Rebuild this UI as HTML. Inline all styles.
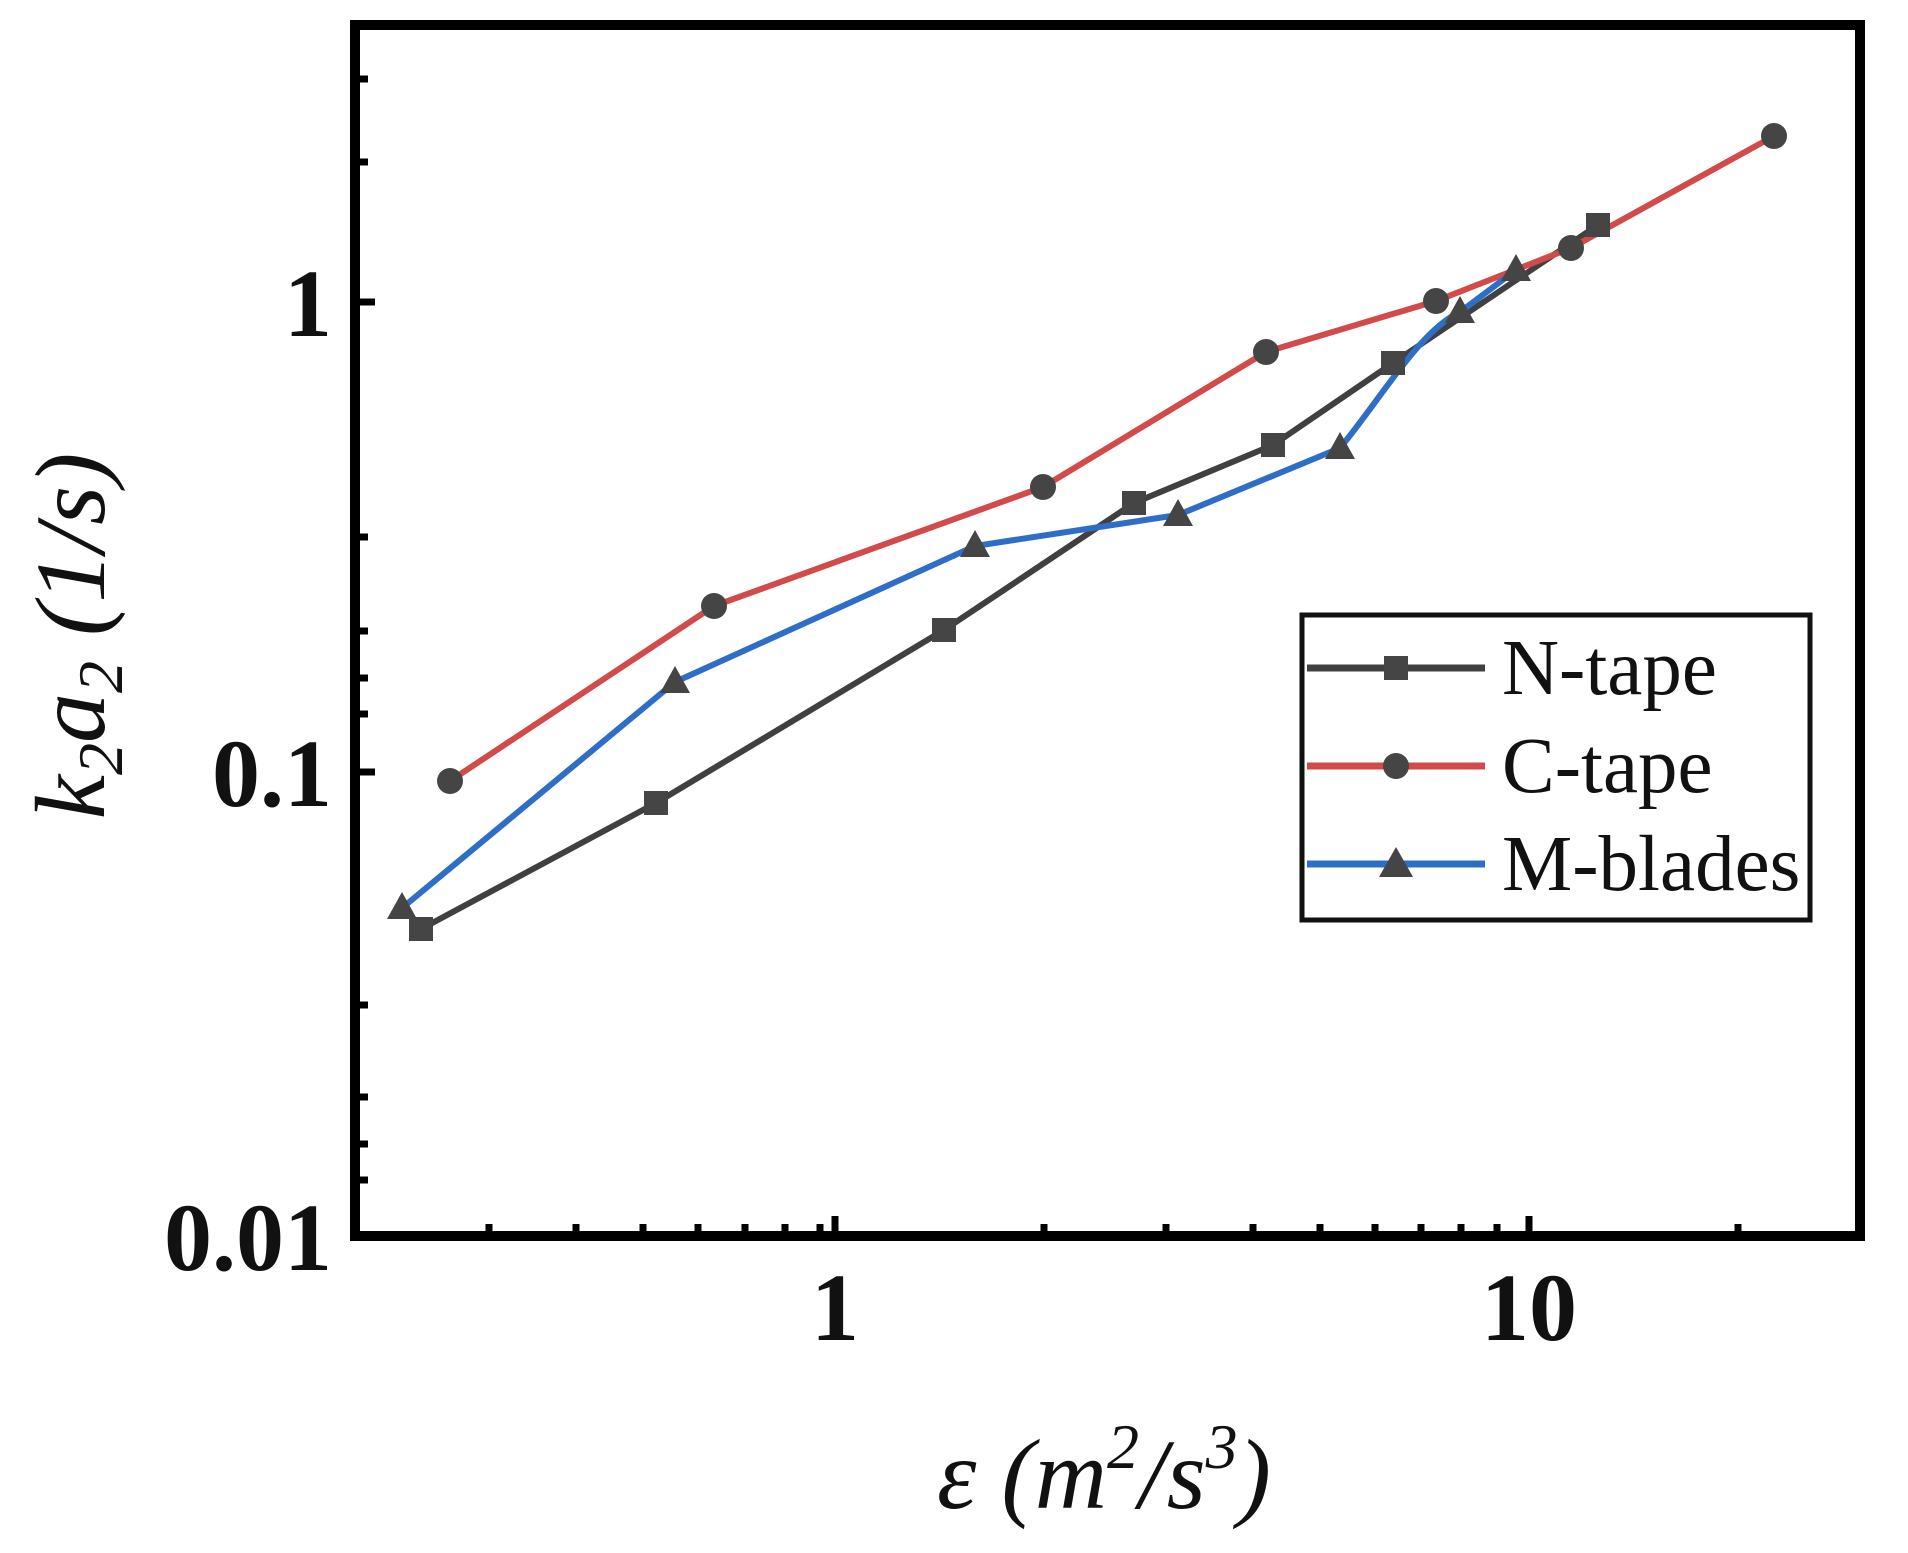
<!DOCTYPE html>
<html><head><meta charset="utf-8"><style>body{margin:0;background:#fff}svg{display:block}</style></head>
<body>
<svg width="1908" height="1553" viewBox="0 0 1908 1553" xmlns="http://www.w3.org/2000/svg" font-family="Liberation Serif, serif">
<rect width="1908" height="1553" fill="#fff"/>
<g stroke="#000" stroke-width="7">
<line x1="355" y1="79" x2="368" y2="79"/><line x1="355" y1="162" x2="368" y2="162"/>
<line x1="355" y1="537" x2="368" y2="537"/><line x1="355" y1="631" x2="368" y2="631"/><line x1="355" y1="678" x2="368" y2="678"/><line x1="355" y1="714" x2="368" y2="714"/>
<line x1="355" y1="1005" x2="368" y2="1005"/><line x1="355" y1="1097" x2="368" y2="1097"/><line x1="355" y1="1144" x2="368" y2="1144"/><line x1="355" y1="1180" x2="368" y2="1180"/>
<line x1="355" y1="772" x2="375" y2="772"/><line x1="355" y1="302" x2="375" y2="302"/>
<line x1="489" y1="1236" x2="489" y2="1224"/><line x1="576" y1="1236" x2="576" y2="1224"/><line x1="643" y1="1236" x2="643" y2="1224"/><line x1="698" y1="1236" x2="698" y2="1224"/><line x1="745" y1="1236" x2="745" y2="1224"/><line x1="785" y1="1236" x2="785" y2="1224"/><line x1="820" y1="1236" x2="820" y2="1224"/>
<line x1="1044" y1="1236" x2="1044" y2="1224"/><line x1="1166" y1="1236" x2="1166" y2="1224"/><line x1="1253" y1="1236" x2="1253" y2="1224"/><line x1="1320" y1="1236" x2="1320" y2="1224"/><line x1="1375" y1="1236" x2="1375" y2="1224"/><line x1="1421" y1="1236" x2="1421" y2="1224"/><line x1="1461" y1="1236" x2="1461" y2="1224"/><line x1="1497" y1="1236" x2="1497" y2="1224"/>
<line x1="835" y1="1236" x2="835" y2="1216"/><line x1="1529" y1="1236" x2="1529" y2="1216"/>
<line x1="1738" y1="1236" x2="1738" y2="1224"/>
</g>
<rect x="355" y="25" width="1505" height="1211" fill="none" stroke="#000" stroke-width="10"/>
<polyline points="421,929 656,803 944,630 1134,503 1273,445 1393,363 1598,225" fill="none" stroke="#404040" stroke-width="6"/>
<polyline points="450,781 714,606 1043,487 1266,352 1436,301 1571,248 1774,136" fill="none" stroke="#d24a4a" stroke-width="6"/>
<path d="M402,908 L675,682 L975,546 L1178,515 L1340,448 C1380,400 1420,330 1460,312 L1516,270" fill="none" stroke="#2f6ec6" stroke-width="6"/>
<g fill="#454545">
<rect x="409" y="917" width="24" height="24"/><rect x="644" y="791" width="24" height="24"/><rect x="932" y="618" width="24" height="24"/><rect x="1122" y="491" width="24" height="24"/><rect x="1261" y="433" width="24" height="24"/><rect x="1381" y="351" width="24" height="24"/><rect x="1586" y="213" width="24" height="24"/>
<circle cx="450" cy="781" r="13"/><circle cx="714" cy="606" r="13"/><circle cx="1043" cy="487" r="13"/><circle cx="1266" cy="352" r="13"/><circle cx="1436" cy="301" r="13"/><circle cx="1571" cy="248" r="13"/><circle cx="1774" cy="136" r="13"/>
<polygon points="402,892 417,919 387,919"/><polygon points="675,666 690,693 660,693"/><polygon points="975,530 990,557 960,557"/><polygon points="1178,499 1193,526 1163,526"/><polygon points="1340,432 1355,459 1325,459"/><polygon points="1460,296 1475,323 1445,323"/><polygon points="1516,254 1531,281 1501,281"/>
</g>
<rect x="1302" y="615" width="508" height="305" fill="#fff" stroke="#111" stroke-width="5"/>
<line x1="1307" y1="668" x2="1485" y2="668" stroke="#404040" stroke-width="7"/>
<rect x="1384" y="656" width="24" height="24" fill="#454545"/>
<line x1="1307" y1="766" x2="1485" y2="766" stroke="#d24a4a" stroke-width="7"/>
<circle cx="1396" cy="766" r="13" fill="#454545"/>
<line x1="1307" y1="864" x2="1485" y2="864" stroke="#2f6ec6" stroke-width="7"/>
<polygon points="1396,847 1413,877 1379,877" fill="#454545"/>
<g font-size="79" fill="#111">
<text x="1502" y="694">N-tape</text>
<text x="1502" y="792">C-tape</text>
<text x="1502" y="890">M-blades</text>
</g>
<g font-size="96" font-weight="bold" fill="#111">
<text x="332" y="336" text-anchor="end">1</text>
<text x="332" y="806" text-anchor="end">0.1</text>
<text x="332" y="1270" text-anchor="end">0.01</text>
<text x="835" y="1340" text-anchor="middle">1</text>
<text x="1529" y="1340" text-anchor="middle">10</text>
</g>
<text x="1104" y="1508" text-anchor="middle" font-size="100" font-style="italic" fill="#111">ε (m<tspan font-size="64" dy="-40">2</tspan><tspan dy="40">/s</tspan><tspan font-size="64" dy="-40">3</tspan><tspan dy="40">)</tspan></text>
<text transform="translate(104,636) rotate(-90)" text-anchor="middle" font-size="100" font-style="italic" fill="#111">k<tspan font-size="64" dy="18">2</tspan><tspan dy="-18">a</tspan><tspan font-size="64" dy="18">2</tspan><tspan dy="-18"> (1/s)</tspan></text>
</svg>
</body></html>
